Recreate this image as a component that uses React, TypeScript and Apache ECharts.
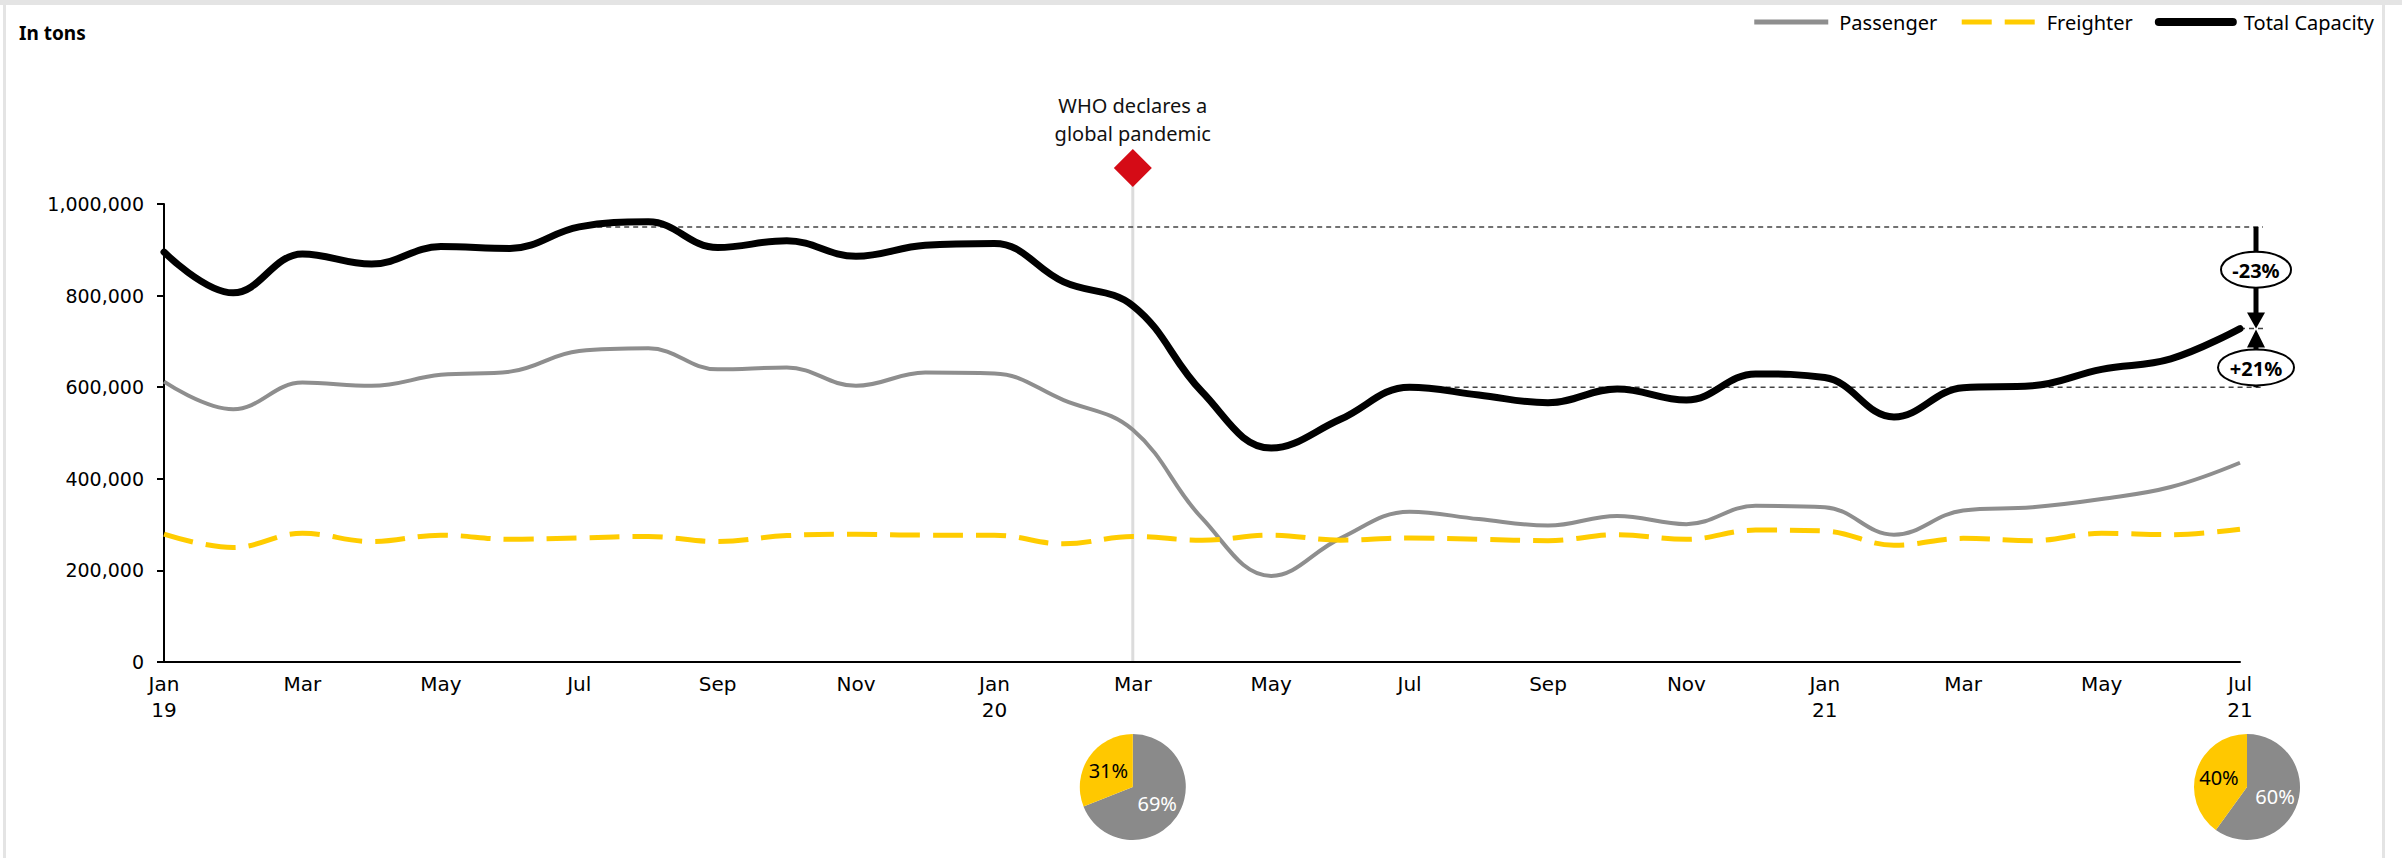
import React, { useEffect, useRef } from "react";
import * as echarts from "echarts";

// ---------- data ----------
const categories = [
  "Jan 19", "Feb 19", "Mar 19", "Apr 19", "May 19", "Jun 19", "Jul 19", "Aug 19", "Sep 19", "Oct 19", "Nov 19", "Dec 19",
  "Jan 20", "Feb 20", "Mar 20", "Apr 20", "May 20", "Jun 20", "Jul 20", "Aug 20", "Sep 20", "Oct 20", "Nov 20", "Dec 20",
  "Jan 21", "Feb 21", "Mar 21", "Apr 21", "May 21", "Jun 21", "Jul 21",
];
const yearLabelIndices = [0, 12, 24, 30];

const passenger = [
  612000, 552000, 610000, 603000, 627000, 634000, 679000, 685000, 639000, 643000, 603000, 632000,
  630000, 572000, 507000, 314000, 188000, 270000, 328000, 312000, 298000, 319000, 301000, 341000,
  338000, 278000, 331000, 338000, 356000, 382000, 435000,
];
const freighter = [
  279000, 250000, 281000, 263000, 277000, 268000, 271000, 274000, 263000, 276000, 279000, 277000,
  277000, 258000, 274000, 266000, 277000, 266000, 271000, 268000, 265000, 278000, 268000, 288000,
  286000, 255000, 270000, 265000, 281000, 278000, 290000,
];
const totalCapacity = [
  895000, 806000, 891000, 869000, 907000, 903000, 950000, 961000, 905000, 920000, 886000, 910000,
  914000, 830000, 778000, 590000, 467000, 530000, 600000, 583000, 566000, 596000, 572000, 629000,
  621000, 535000, 599000, 603000, 639000, 662000, 728000,
];

const yMin = 0;
const yMax = 1000000;
const yInterval = 200000;

const eventIndex = 14; // Mar 20
const eventLabel = "WHO declares a\nglobal pandemic";

const refIndexA = 6; // Jul 19
const refIndexB = 18; // Jul 20
const lastIndex = 30; // Jul 21
const changeLabels = ["-23%", "+21%"];

const pieMar20 = [69, 31]; // passenger, freighter share (%)
const pieJul21 = [60, 40];

// ---------- styles ----------
const FONT = '"Noto Sans", sans-serif';
const AXIS_FONT = '"DejaVu Sans", sans-serif';
const GRAY = "#8e8e8e";
const YELLOW = "#ffcc00";
const PIE_GRAY = "#8a8a8a";
const PIE_YELLOW = "#ffc800";
const FREIGHTER_DASH = [30, 13];

const GRID = { left: 164, right: 162, top: 204, bottom: 196 };

function pieSeries(id: string, values: number[]) {
  return {
    id,
    type: "pie",
    radius: 53,
    center: [0, 0],
    silent: true,
    startAngle: 90,
    clockwise: true,
    labelLine: { show: false },
    itemStyle: { borderWidth: 0 },
    label: {
      show: true,
      position: "inside",
      formatter: "{c}%",
      fontSize: 20,
      fontFamily: FONT,
    },
    emphasis: { disabled: true },
    data: [
      { name: id + " passenger", value: values[0], itemStyle: { color: PIE_GRAY }, label: { color: "#fff" } },
      { name: id + " freighter", value: values[1], itemStyle: { color: PIE_YELLOW }, label: { color: "#000" } },
    ],
  };
}

export default function App() {
  const ref = useRef<HTMLDivElement>(null);

  useEffect(() => {
    document.body.style.margin = "0";
    if (!ref.current) return;
    const chart = echarts.init(ref.current, undefined, { renderer: "svg" });

    const smooth = 0.4;
    chart.setOption({
      animation: false,
      backgroundColor: "#fff",
      textStyle: { fontFamily: FONT },
      title: {
        text: "In tons",
        left: 19,
        top: 23,
        padding: 0,
        textStyle: { fontSize: 19, fontWeight: "bold", color: "#000", fontFamily: FONT },
      },
      legend: {
        data: [
          { name: "Passenger", lineStyle: { width: 5, color: GRAY } },
          { name: "Freighter", lineStyle: { width: 5, color: YELLOW, type: FREIGHTER_DASH } },
          { name: "Total Capacity", lineStyle: { width: 8, color: "#000", cap: "round" } },
        ],
        right: 28,
        top: 12,
        padding: 0,
        itemWidth: 74,
        itemHeight: 14,
        itemGap: 22,
        selectedMode: false,
        itemStyle: { opacity: 0 },
        textStyle: { fontSize: 20, color: "#000", fontFamily: FONT, padding: [0, 0, 0, 6] },
      },
      grid: { ...GRID, containLabel: false },
      xAxis: {
        type: "category",
        data: categories,
        boundaryGap: false,
        axisLine: { lineStyle: { color: "#000", width: 2 } },
        axisTick: { show: false },
        splitLine: { show: false },
        axisLabel: {
          interval: 1,
          fontSize: 20,
          lineHeight: 26,
          margin: 9,
          color: "#000",
          fontFamily: AXIS_FONT,
          formatter: (value: string, index: number) => {
            const [m, y] = value.split(" ");
            return yearLabelIndices.includes(index) ? `${m}\n${y}` : m;
          },
        },
      },
      yAxis: {
        type: "value",
        min: yMin,
        max: yMax,
        interval: yInterval,
        axisLine: { show: true, lineStyle: { color: "#000", width: 2 } },
        axisTick: { show: true, length: 7, lineStyle: { color: "#000", width: 2 } },
        splitLine: { show: false },
        axisLabel: {
          fontSize: 19,
          margin: 20,
          color: "#000",
          fontFamily: AXIS_FONT,
          formatter: (v: number) => v.toLocaleString("en-US"),
        },
      },
      series: [
        {
          name: "Passenger",
          type: "line",
          data: passenger,
          smooth,
          symbol: "none",
          z: 3,
          itemStyle: { color: GRAY },
          lineStyle: { color: GRAY, width: 4 },
        },
        {
          name: "Freighter",
          type: "line",
          data: freighter,
          smooth,
          symbol: "none",
          z: 3,
          itemStyle: { color: YELLOW },
          lineStyle: { color: YELLOW, width: 5, type: FREIGHTER_DASH },
        },
        {
          name: "Total Capacity",
          type: "line",
          data: totalCapacity,
          smooth,
          symbol: "none",
          z: 4,
          itemStyle: { color: "#000" },
          lineStyle: { color: "#000", width: 7, cap: "round", join: "round" },
        },
        pieSeries("pieA", pieMar20),
        pieSeries("pieB", pieJul21),
      ],
    });

    const px = (i: number, v: number) => chart.convertToPixel({ seriesIndex: 0 }, [i, v]) as number[];

    const [xEvent, yZero] = px(eventIndex, 0);
    const [xLast, yCur] = px(lastIndex, totalCapacity[lastIndex]);
    const [xRefA, yRefA] = px(refIndexA, totalCapacity[refIndexA]);
    const [xRefB, yRefB] = px(refIndexB, totalCapacity[refIndexB]);
    const yGridTop = GRID.top;

    const diamondY = yGridTop - 36;
    const diamondR = 19;
    const xA = xLast + 16;
    const xDashEnd = xA + 7;
    const triH = 16;
    const triW = 9;
    const pieY = yZero + 125;

    const dash = { stroke: "#444", lineWidth: 1.5, lineDash: [5, 4] };

    chart.setOption({
      series: [
        { id: "pieA", center: [xEvent, pieY] },
        { id: "pieB", center: [xLast + 7, pieY] },
      ],
      graphic: [
        // frame
        { type: "rect", shape: { x: 0, y: 0, width: 2402, height: 5 }, style: { fill: "#e4e4e4" }, z: 0, silent: true },
        { type: "rect", shape: { x: 3, y: 5, width: 3, height: 853 }, style: { fill: "#e4e4e4" }, z: 0, silent: true },
        { type: "rect", shape: { x: 2382, y: 5, width: 3, height: 853 }, style: { fill: "#e4e4e4" }, z: 0, silent: true },
        // event vertical line
        {
          type: "line",
          shape: { x1: xEvent, y1: diamondY, x2: xEvent, y2: yZero - 1 },
          style: { stroke: "#dcdcdc", lineWidth: 3 },
          z: 1,
          silent: true,
        },
        {
          type: "polygon",
          shape: {
            points: [
              [xEvent, diamondY - diamondR],
              [xEvent + diamondR, diamondY],
              [xEvent, diamondY + diamondR],
              [xEvent - diamondR, diamondY],
            ],
          },
          style: { fill: "#d50b16" },
          z: 10,
          silent: true,
        },
        {
          type: "text",
          x: xEvent,
          y: diamondY - 49,
          style: {
            text: eventLabel,
            fontSize: 20,
            fontFamily: FONT,
            fill: "#111",
            align: "center",
            verticalAlign: "middle",
            lineHeight: 28,
          },
          z: 10,
          silent: true,
        },
        // reference dashed lines
        { type: "line", shape: { x1: xRefA, y1: yRefA, x2: xDashEnd, y2: yRefA }, style: dash, z: 1, silent: true },
        { type: "line", shape: { x1: xRefB, y1: yRefB, x2: xDashEnd, y2: yRefB }, style: dash, z: 1, silent: true },
        { type: "line", shape: { x1: xLast, y1: yCur, x2: xDashEnd, y2: yCur }, style: dash, z: 1, silent: true },
        // down arrow
        {
          type: "line",
          shape: { x1: xA, y1: yRefA, x2: xA, y2: yCur - triH + 1 },
          style: { stroke: "#000", lineWidth: 5 },
          z: 10,
          silent: true,
        },
        {
          type: "polygon",
          shape: { points: [[xA - triW, yCur - triH], [xA + triW, yCur - triH], [xA, yCur]] },
          style: { fill: "#000" },
          z: 10,
          silent: true,
        },
        // up arrow
        {
          type: "line",
          shape: { x1: xA, y1: yRefB, x2: xA, y2: yCur + triH + 2 },
          style: { stroke: "#000", lineWidth: 5 },
          z: 10,
          silent: true,
        },
        {
          type: "polygon",
          shape: { points: [[xA - triW, yCur + triH + 3], [xA + triW, yCur + triH + 3], [xA, yCur + 1]] },
          style: { fill: "#000" },
          z: 10,
          silent: true,
        },
        // labels
        {
          type: "ellipse",
          shape: { cx: xA, cy: (yRefA + yCur - triH) / 2, rx: 35, ry: 18 },
          style: { fill: "#fff", stroke: "#000", lineWidth: 2 },
          z: 11,
          silent: true,
        },
        {
          type: "text",
          x: xA,
          y: (yRefA + yCur - triH) / 2 + 1,
          style: {
            text: changeLabels[0],
            fontSize: 20,
            fontWeight: "bold",
            fontFamily: FONT,
            fill: "#000",
            align: "center",
            verticalAlign: "middle",
          },
          z: 12,
          silent: true,
        },
        {
          type: "ellipse",
          shape: { cx: xA, cy: (yRefB + yCur + triH + 3) / 2, rx: 38, ry: 18 },
          style: { fill: "#fff", stroke: "#000", lineWidth: 2 },
          z: 11,
          silent: true,
        },
        {
          type: "text",
          x: xA,
          y: (yRefB + yCur + triH + 3) / 2 + 1,
          style: {
            text: changeLabels[1],
            fontSize: 20,
            fontWeight: "bold",
            fontFamily: FONT,
            fill: "#000",
            align: "center",
            verticalAlign: "middle",
          },
          z: 12,
          silent: true,
        },
      ],
    });

    return () => chart.dispose();
  }, []);

  return <div ref={ref} style={{ width: 2402, height: 858 }} />;
}
